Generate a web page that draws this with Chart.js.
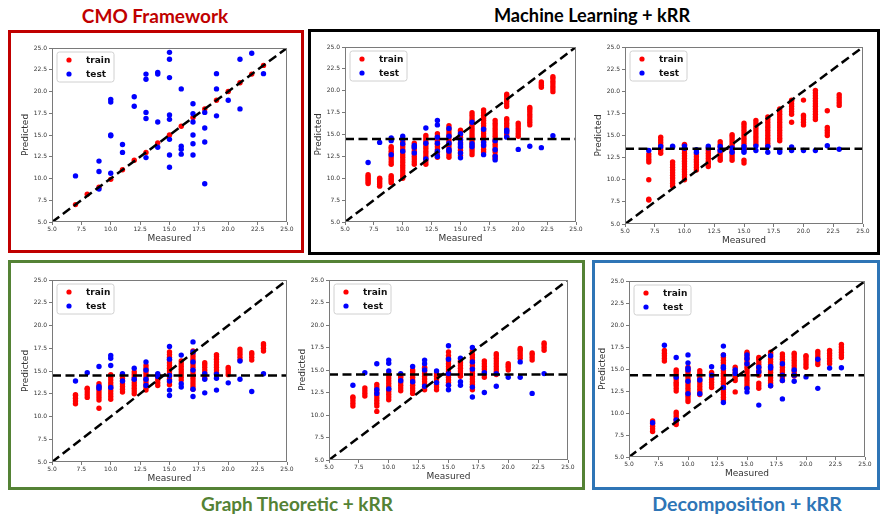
<!DOCTYPE html>
<html><head><meta charset="utf-8">
<script src="https://cdn.jsdelivr.net/npm/chart.js@4.4.0/dist/chart.umd.min.js"></script>
<style>
body{margin:0;width:881px;height:516px;background:#fff;position:relative;overflow:hidden}
.box{position:absolute;box-sizing:border-box;border-style:solid;border-width:3px}
.ttl{position:absolute;transform:translate(-50%,-50%);font-weight:bold;font-size:19px;white-space:nowrap;font-family:Lato,'Open Sans',sans-serif}
canvas{position:absolute}
</style></head><body>
<div class="box" style="left:8px;top:30px;width:296px;height:223px;border-color:#c00000"></div>
<div class="box" style="left:308px;top:29px;width:572px;height:226px;border-color:#000"></div>
<div class="box" style="left:8px;top:260px;width:577px;height:230px;border-color:#548235"></div>
<div class="box" style="left:592px;top:260px;width:288px;height:230px;border-color:#2e75b6"></div>
<div class="ttl" style="left:155px;top:15px;color:#c00000">CMO Framework</div>
<div class="ttl" style="left:592px;top:15px;color:#000;font-size:18.2px">Machine Learning + kRR</div>
<div class="ttl" style="left:297px;top:503px;color:#548235">Graph Theoretic + kRR</div>
<div class="ttl" style="left:747px;top:503px;color:#2e75b6;font-size:19.6px">Decomposition + kRR</div>
<script>
// ---------- data ----------
const measured = [7,8,9,10,11,12,13,14,15,16,17,18,19,20,21,22,23];
const tickValues = [5.0,7.5,10.0,12.5,15.0,17.5,20.0,22.5,25.0];
const seriesNames = ['train','test'];
const xTitle = 'Measured';
const yTitle = 'Predicted';

// Panel 1: CMO Framework
const p1Train = [[7.0],[8.2],[9.0],[9.9],[11.0],[12.1],[13.0],[14.1],[15.0],[16.0],[17.0],[18.0],[19.0],[20.0],[21.0],[22.0],[23.0]];
const p1Test = [[10.3],[],[12.0,10.8,8.8],[19.1,18.8,15.0,14.9,10.6],[13.9,13.0],[19.4,18.3],[22.0,21.4,17.6,16.9,12.4],[22.2,22.0,16.5,13.6],[24.5,23.7,21.6,17.3,16.8,14.5,12.7,11.3],[20.3,13.7,13.35,12.8],[18.6,17.45,16.5,15.0,14.0,12.7],[17.6,15.8,14.2,9.4],[22.05,20.3,17.2],[19.0],[23.7,18.0],[24.4],[22.05]];

// Panel 2: Machine Learning + kRR (left)
const p2Train = [
 [9.4,9.6,9.8,10.0,10.2,10.4],
 [9.1,9.3,9.5,9.7,9.9,10.0],
 [9.5,9.7,9.9,10.1,10.3,11.6,11.9,12.2,12.5,12.8,13.1,13.4,13.6],
 [10.0,10.3,10.6,10.9,11.2,11.5,11.8,12.1,12.4,12.7,13.0,13.3,13.6,13.9,14.2],
 [11.6,11.9,12.2,12.5,12.8,13.1,13.4,13.7,14.0],
 [11.6,11.9,12.2,12.5,12.8,13.1,13.4,13.7,14.0,14.3,14.6,14.9],
 [12.4,12.7,13.0,13.3,13.6,13.9,14.2,14.5,14.8,15.1],
 [12.4,12.7,13.0,13.3,13.6,13.9,14.2,14.5,14.8,15.1,15.4,15.7,16.0],
 [12.6,12.9,13.2,13.5,13.8,14.1,14.4,14.7,15.0,15.3,15.5],
 [12.7,13.0,13.3,13.6,13.9,14.2,14.5,14.8,15.1,15.4,15.7,16.0,16.3,16.6,16.9,17.2,17.5],
 [13.0,13.3,13.6,13.9,14.2,14.5,14.8,15.1,15.4,15.7,16.0,16.3,16.6,16.9,17.2,17.5,17.8],
 [12.3,12.6,13.0,13.3,13.6,13.9,14.2,14.5,14.8,15.1,15.4,15.7,16.0,16.3,16.6],
 [14.8,15.1,15.4,15.7,16.0,16.3,16.6,16.8,18.2,18.5,18.8,19.1,19.4,19.6],
 [14.8,15.1,15.4,15.7,16.0,16.3],
 [16.1,16.4,16.7,17.0,17.3,17.6,17.9,18.1],
 [20.4,20.6,20.8,21.0],
 [19.9,20.2,20.5,20.8,21.1,21.4,21.6]];
const p2Test = [[11.8],[14.1],[14.6,14.3,12.7],[14.8,14.5,13.95,13.1],[13.75,13.55,12.9],[15.75,14.0,12.2],[16.6,16.1,14.7,14.0,13.1,12.5],[15.7,14.8,14.0,13.3,13.1],[15.1,14.4,13.95,13.6,12.9,12.35],[16.4,13.95,13.6],[15.6,14.1,13.75,12.7],[14.3,13.25,12.5,12.1],[15.5,15.3,14.7],[13.3],[13.65],[13.5],[14.85]];
const p2Mean = 14.5;

// Panel 3: Machine Learning + kRR (right)
const p3Train = [
 [7.7,7.8,10.0,12.0,12.3,12.6,12.9],
 [13.0,13.3,13.6,13.9,14.2,14.5,14.8],
 [9.3,9.6,9.9,10.2,10.5,10.8,11.1,11.4,11.7,12.0],
 [10.0,10.3,10.6,10.9,11.2,11.5,11.8,12.1,12.4,12.7,13.0,13.3,13.6,13.9,14.0],
 [11.1,11.4,11.7,12.0,12.3,12.6,12.9],
 [11.5,11.8,12.1,12.4,12.7,13.0,13.3,13.6],
 [12.2,12.5,12.8,13.1,13.4,13.7,14.0,14.3],
 [12.2,12.5,12.8,13.1,13.4,13.7,14.0,14.3,14.6,14.9,15.1],
 [11.9,12.2,13.5,13.8,14.1,14.4,14.7,15.0,15.3,15.6,15.9,16.2,16.4],
 [14.0,14.3,14.6,14.9,15.2,15.5,15.8,16.1,16.4,16.7],
 [13.8,14.1,14.4,14.7,15.0,15.3,15.6,15.9,16.2,16.5,16.8,17.1],
 [14.4,14.7,15.0,15.3,15.6,15.9,16.2,16.5,16.8,17.1,17.4,17.7,18.0],
 [16.5,17.4,17.7,18.0,18.3,18.6,18.9,19.0],
 [16.2,16.5,16.8,17.1,17.3,19.0],
 [16.8,17.1,17.4,17.7,18.0,18.3,18.6,18.9,19.2,19.5,19.8,20.1],
 [15.0,15.3,15.6,15.9,17.8],
 [18.4,18.7,19.0,19.3,19.6]];
const p3Test = [[13.3],[13.75],[13.8,13.7],[13.8,13.55],[13.4,13.1],[13.8,13.6],[13.75,13.3],[13.6,13.1],[13.75,13.3,13.1],[13.8,13.3],[13.75,13.1],[13.3,13.1],[13.7,13.3],[13.3],[13.3],[13.85],[13.45]];
const p3Mean = 13.5;

// Panel 4: Graph Theoretic + kRR (left)
const p4Train = [
 [11.4,11.7,12.0,12.3,12.4],
 [12.1,12.4,12.7,13.0,13.1],
 [10.9,11.8,12.1,12.4,12.7,13.0,13.3,13.6],
 [11.9,12.2,12.5,12.8,13.1,13.4,13.7,14.0,14.3,14.6],
 [12.7,13.0,13.3,13.6,13.9,14.2],
 [12.5,12.8,13.1,13.4,13.7,14.0,14.3,14.6,14.9],
 [12.9,13.2,13.5,13.8,14.1,14.4,14.7,15.0,15.3,15.6],
 [13.4,13.7,14.0,14.3,14.6],
 [13.5,13.8,14.1,14.4,14.7,15.0,15.3,15.6,15.9,16.2,16.5,16.8,17.1],
 [14.0,14.3,14.6,14.9,15.2,15.5,15.8,16.1],
 [13.0,13.3,13.6,13.9,14.2,14.5,14.8,15.1,15.4,15.7,16.0,16.3,16.6,16.9,17.2],
 [14.2,14.5,14.8,15.1,15.4,15.7,15.9],
 [14.8,15.1,15.4,15.7,16.0,16.3,16.6,16.8],
 [14.6,14.9,15.2,15.4],
 [16.2,16.5,16.8,17.1,17.4],
 [16.2,16.5,16.8,17.0],
 [17.2,17.5,17.8,18.0]];
const p4Test = [[13.9],[14.8],[15.5,13.3,13.1],[16.7,16.4,15.6,13.2],[14.7,13.9],[15.3,14.1],[16.0,15.1,14.1,13.4],[14.7,14.4],[17.7,16.3,14.5,13.9,12.9,12.3],[16.75,13.6,13.25],[18.2,17.1,16.0,15.1,13.0,12.2],[14.7,14.1,12.6],[14.65,14.2,12.9],[13.7],[16.1,14.1],[12.75],[14.7]];
const p4Mean = 14.5;

// Panel 5: Graph Theoretic + kRR (right)
const p5Train = [
 [11.0,11.3,11.6,11.9,12.0],
 [12.1,12.4,12.7,13.0],
 [10.4,11.0,11.3,11.6,11.9,12.2,12.5,12.8,13.1,13.4],
 [11.7,12.0,12.3,12.6,12.9,13.2,13.5,13.8,14.1,14.4,14.6],
 [12.7,13.0,13.3,13.6,13.9,14.2,14.4],
 [12.4,12.7,13.0,13.3,13.6,13.9,14.2,14.5,14.8,15.0],
 [12.8,13.1,13.4,13.7,14.0,14.3,14.6,14.9,15.2,15.3],
 [12.8,13.1,13.4,13.7,14.0,14.3,14.6],
 [13.3,13.6,13.9,14.2,14.5,14.8,15.1,15.4,15.7,16.0,16.3,16.6,17.0],
 [14.3,14.6,14.9,15.2,15.5,15.8,16.0],
 [12.8,13.1,13.4,13.7,14.0,14.3,14.6,14.9,15.2,15.5,15.8,16.1,16.4,16.7,17.1],
 [14.2,14.5,14.8,15.1,15.4,15.7,16.0],
 [14.5,14.8,15.1,15.4,15.7,16.0,16.3,16.6,16.8],
 [15.0,15.3,15.5,15.7],
 [16.3,16.6,16.9,17.2,17.4],
 [16.1,16.4,16.7,16.9],
 [17.2,17.5,17.8,18.0]];
const p5Test = [[13.3],[14.7],[15.7,12.8,12.4],[16.1,15.75,14.9,12.9],[14.6,13.8],[15.4,13.7],[16.1,15.7,15.0,13.2],[14.9,13.6],[17.7,16.2,14.6,13.3,12.8],[16.3,13.7,13.3],[17.5,15.9,15.1,13.1,12.0],[14.7,12.5],[14.6,13.2],[14.2],[15.9,14.2],[12.4],[14.6]];
const p5Mean = 14.5;

// Panel 6: Decomposition + kRR
const p6Train = [
 [7.9,8.2,8.5,8.8,9.1],
 [15.9,16.2,16.5,16.8,17.1],
 [8.7,9.0,9.3,9.6,9.9,10.1,12.5,12.8,13.1,13.3,13.5,13.8,14.1,14.4,14.7,14.9],
 [11.3,11.6,11.9,12.2,12.5,12.8,13.1,13.4,13.7,14.0,14.3,14.6,14.9,15.2],
 [12.1,12.4,12.7,13.0,13.3,13.6,13.9,14.2,14.5,14.8],
 [12.9,13.2,13.5,13.8,14.1,14.4,14.6],
 [11.5,11.8,12.1,12.4,12.7,13.0,13.3,13.6,13.9,14.2,14.5,14.8,15.1,15.4,15.7,16.0,16.3,16.6],
 [12.4,13.7,14.0,14.3,14.6,14.9,15.2],
 [12.8,13.1,13.4,13.7,14.0,14.3,14.6,14.9,15.2,15.5,15.8,16.1,16.4,16.7,16.9],
 [12.8,13.1,13.4,14.3,14.6,14.9,15.2,15.5,15.8,16.1,16.3],
 [13.1,13.4,13.7,14.0,14.3,14.6,14.9,15.2,15.5,15.8,16.1,16.4,16.7,16.9],
 [13.7,14.0,14.3,14.6,14.9,15.2,15.5,15.8,16.1,16.4,16.7],
 [14.2,14.5,14.8,15.1,15.4,15.7,16.0,16.3,16.6,16.8],
 [15.2,15.5,15.8,16.1,16.4,16.5],
 [15.5,15.8,16.1,16.4,16.7,17.0],
 [15.6,15.9,16.2,16.5,16.8,17.1],
 [16.3,16.6,16.9,17.2,17.5,17.8]];
const p6Test = [[8.9],[17.7],[16.3,14.05,9.2],[16.6,15.7,15.1,14.9,13.6,12.2],[13.75,12.2],[15.25,14.3],[17.6,16.6,15.25,15.1,12.9,11.2],[14.9,14.5],[16.6,16.2,15.6,12.8,12.4],[15.2,14.7,10.9],[16.5,15.3,15.1,13.1],[15.6,14.3,13.7,11.6],[14.9,14.3,13.6],[14.1],[16.1,12.8],[15.1],[15.15]];
const p6Mean = 14.3;

// ---------- rendering ----------
const PAD_L = 44, PAD_T = 8, PAD_R = 8, PAD_B = 28;
const panels = [
  {train:p1Train, test:p1Test, mean:null, area:[52,48,287,222]},
  {train:p2Train, test:p2Test, mean:p2Mean, area:[345,47,576,222]},
  {train:p3Train, test:p3Test, mean:p3Mean, area:[625,47,863,224]},
  {train:p4Train, test:p4Test, mean:p4Mean, area:[52,280,287,462]},
  {train:p5Train, test:p5Test, mean:p5Mean, area:[329,280,568,460]},
  {train:p6Train, test:p6Test, mean:p6Mean, area:[629,281,865,457]}
];

function toPoints(cols){
  const pts = [];
  measured.forEach((m,i)=>{ (cols[i]||[]).forEach(v=>pts.push({x:m,y:v})); });
  return pts;
}

const framePlugin = {
  id:'frame',
  afterDatasetsDraw(chart){
    const {ctx, chartArea:a} = chart;
    ctx.save();
    ctx.strokeStyle = '#7a7a7a';
    ctx.lineWidth = 1;
    ctx.strokeRect(Math.round(a.left)+0.5, Math.round(a.top)+0.5, Math.round(a.right-a.left)-1, Math.round(a.bottom-a.top)-1);
    ctx.restore();
  }
};
const legendPlugin = {
  id:'mplLegend',
  afterDraw(chart){
    const {ctx, chartArea:a} = chart;
    const x = a.left+5, y = a.top+4, w = 57, h = 30, r = 2.5;
    ctx.save();
    ctx.beginPath();
    ctx.moveTo(x+r,y); ctx.lineTo(x+w-r,y); ctx.quadraticCurveTo(x+w,y,x+w,y+r);
    ctx.lineTo(x+w,y+h-r); ctx.quadraticCurveTo(x+w,y+h,x+w-r,y+h);
    ctx.lineTo(x+r,y+h); ctx.quadraticCurveTo(x,y+h,x,y+h-r);
    ctx.lineTo(x,y+r); ctx.quadraticCurveTo(x,y,x+r,y); ctx.closePath();
    ctx.fillStyle = 'rgba(255,255,255,0.85)'; ctx.fill();
    ctx.strokeStyle = '#d0d0d0'; ctx.lineWidth = 1; ctx.stroke();
    const cols = ['#ff0000','#0000ff'];
    ctx.font = 'bold 9px "DejaVu Sans"';
    ctx.textBaseline = 'middle';
    seriesNames.forEach((n,i)=>{
      const cy = y + 8 + i*14;
      ctx.beginPath(); ctx.arc(x+12, cy, 2.6, 0, Math.PI*2); ctx.fillStyle = cols[i]; ctx.fill();
      ctx.fillStyle = '#111'; ctx.fillText(n, x+29, cy+0.5);
    });
    ctx.restore();
  }
};

function axis(pos, title){
  const isY = pos === 'left';
  return {
    type:'linear', position:pos, min:5, max:25,
    afterFit: s => { if (isY) s.width = PAD_L; else s.height = PAD_B; },
    afterBuildTicks: s => { s.ticks = tickValues.map(v=>({value:v})); },
    ticks:{ callback: v => Number(v).toFixed(1), font:{family:'DejaVu Sans', size:6}, color:'#333',
            padding: isY ? 2 : 1, autoSkip:false, maxRotation:0, minRotation:0 },
    grid:{ display:true, drawOnChartArea:false, drawTicks:true, tickLength:3, color:'#555', lineWidth:0.8 },
    border:{ display:false },
    title:{ display:true, text:title, font:{family:'DejaVu Sans', size:9}, color:'#333',
            padding: isY ? {top:12,bottom:0} : {top:0,bottom:5.5} }
  };
}

panels.forEach(p=>{
  const [L,T,R,B] = p.area;
  const cv = document.createElement('canvas');
  const W = (R-L)+PAD_L+PAD_R, H = (B-T)+PAD_T+PAD_B;
  cv.width = W; cv.height = H;
  cv.style.left = (L-PAD_L)+'px'; cv.style.top = (T-PAD_T)+'px';
  cv.style.width = W+'px'; cv.style.height = H+'px';
  document.body.appendChild(cv);
  const lineStyle = {showLine:true, borderColor:'#000', borderWidth:2.5, borderDash:[9,4.5], pointRadius:0, fill:false};
  const datasets = [
    Object.assign({label:'diag', data:[{x:5,y:5},{x:25,y:25}]}, lineStyle)
  ];
  if (p.mean !== null) datasets.push(Object.assign({label:'mean', data:[{x:5,y:p.mean},{x:25,y:p.mean}]}, lineStyle));
  datasets.push({label:seriesNames[1], data:toPoints(p.test), backgroundColor:'#0000ff', borderColor:'#0000ff', borderWidth:0, pointRadius:2.7});
  datasets.push({label:seriesNames[0], data:toPoints(p.train), backgroundColor:'#ff0000', borderColor:'#ff0000', borderWidth:0, pointRadius:2.7});
  new Chart(cv, {
    type:'scatter',
    data:{datasets},
    options:{
      responsive:false, animation:false, devicePixelRatio:1,
      layout:{padding:{left:0, top:PAD_T, right:PAD_R, bottom:0}},
      plugins:{legend:{display:false}, tooltip:{enabled:false}},
      scales:{ x: axis('bottom', xTitle), y: axis('left', yTitle) }
    },
    plugins:[framePlugin, legendPlugin]
  });
});
</script>
</body></html>
